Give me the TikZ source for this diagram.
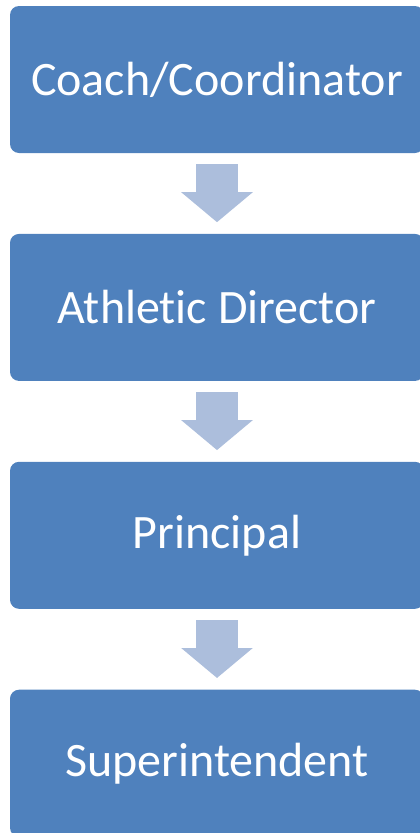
\documentclass[tikz,border=0pt]{standalone}
\usepackage{fontspec}
\setmainfont[Ligatures={NoCommon}]{Carlito}
\usetikzlibrary{positioning}
\usetikzlibrary{arrows.meta}
\definecolor{boxblue}{RGB}{79,129,189}
\definecolor{arrowblue}{RGB}{172,190,220}
\tikzset{
    stage/.style = {rectangle, rounded corners=9pt, fill=boxblue, text=white, inner sep=0pt, minimum width=414pt, minimum height=147pt, font=\fontsize{48}{58}\selectfont},
    edgef/.style = {-{Triangle[length=30pt,width=70pt]}, line width=42pt, draw=arrowblue, shorten <=11pt, shorten >=11.5pt}, % down
}

\begin{document}
\begin{tikzpicture}
  \useasboundingbox (0,0) rectangle (420pt,-833pt);
  \clip (0,0) rectangle (420pt,-833pt);

  \node[stage] at (217pt,-79.5pt) (coach) {Coach/Coordinator};
  \node[stage, below=80.5pt of coach] (athletic) {Athletic Director};
  \node[stage, below=80.5pt of athletic] (principal) {Principal};
  \node[stage, below=80.5pt of principal] (super) {Superintendent};

  \draw[edgef] (coach) -- (athletic);
  \draw[edgef] (athletic) -- (principal);
  \draw[edgef] (principal) -- (super);
\end{tikzpicture}
\end{document}
